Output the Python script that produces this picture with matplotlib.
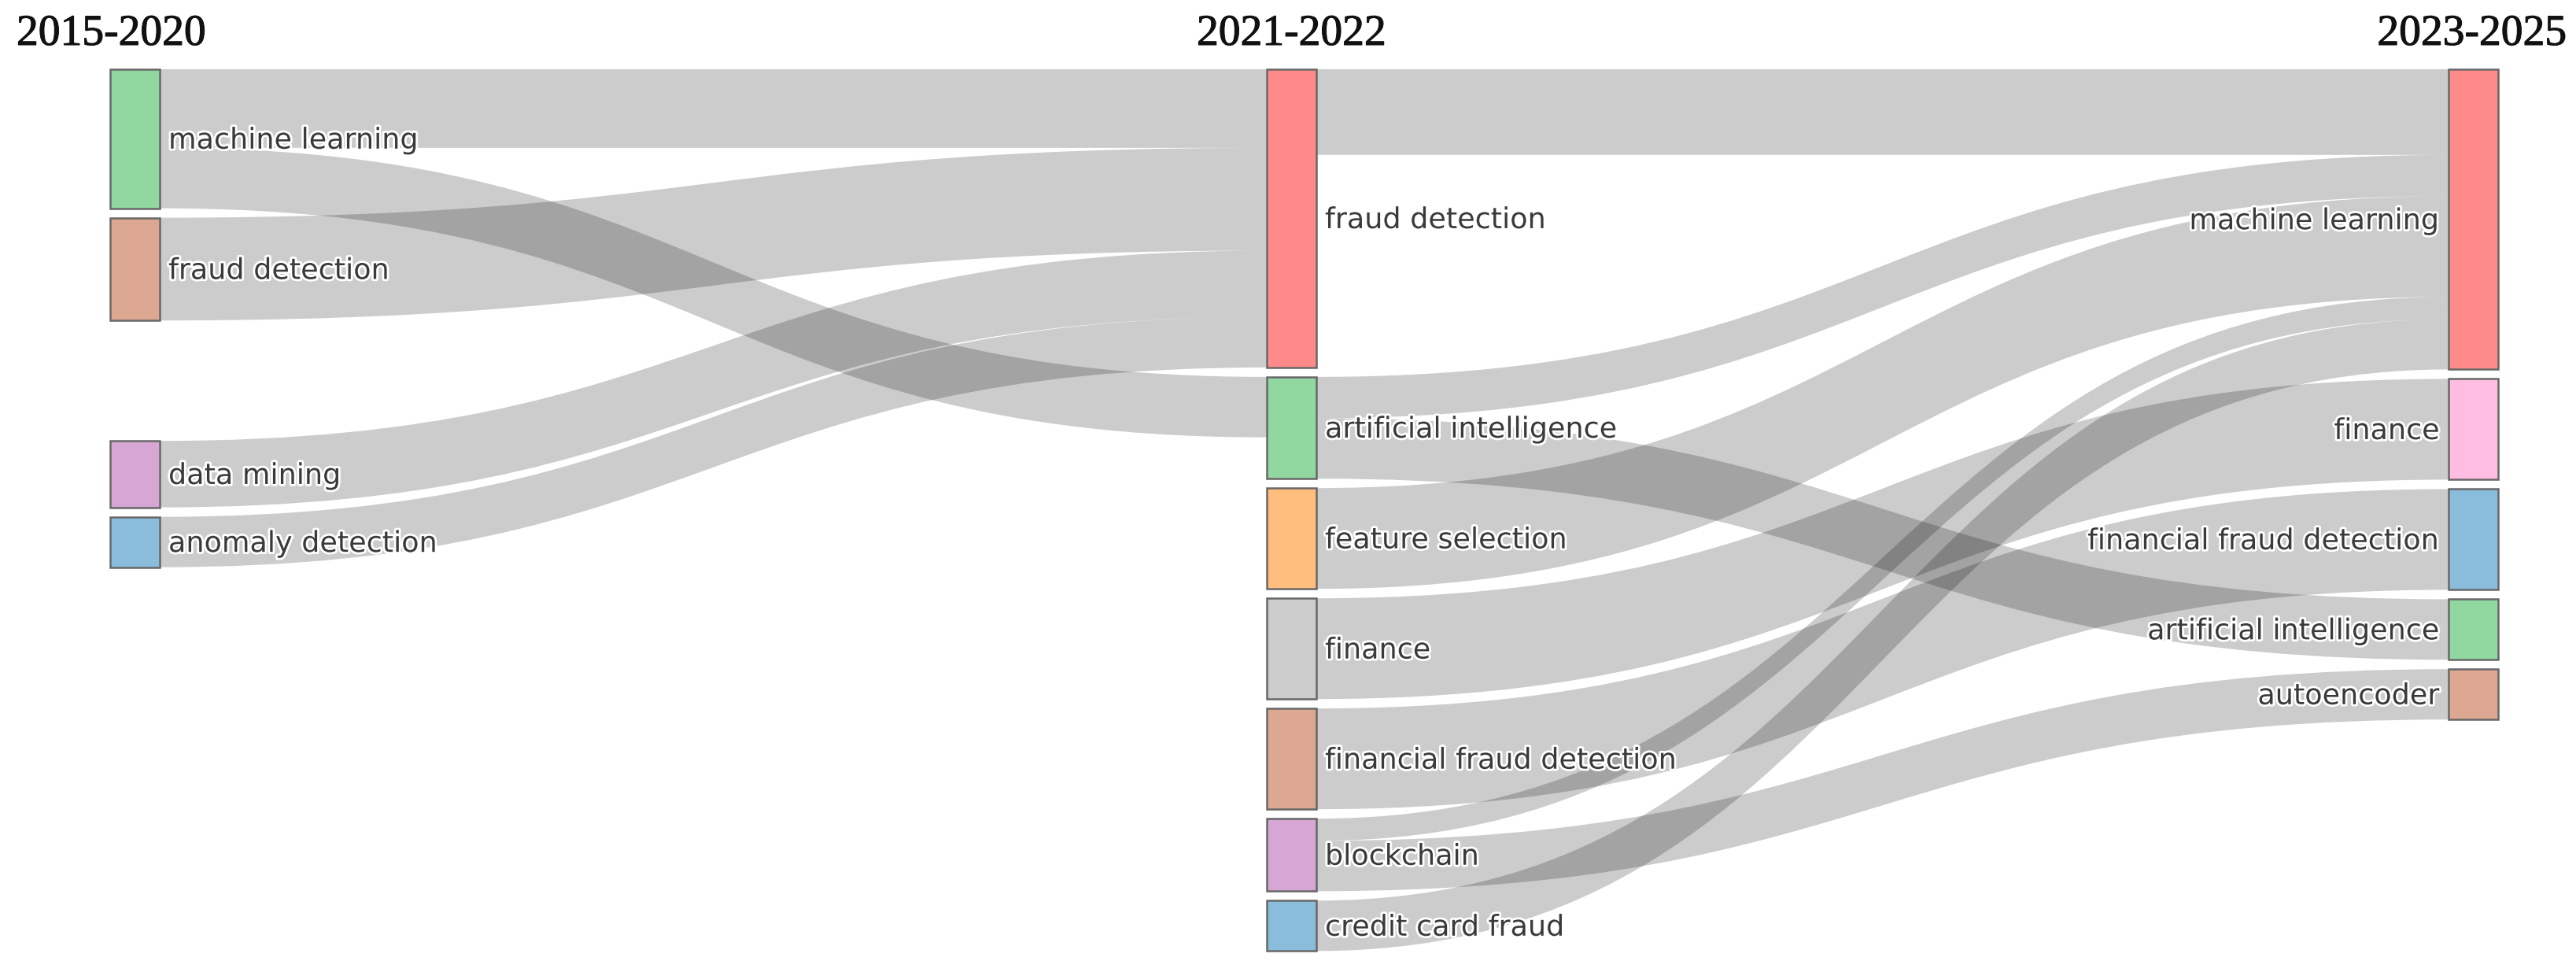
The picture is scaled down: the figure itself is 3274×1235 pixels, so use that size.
import matplotlib
matplotlib.use("Agg")
import matplotlib.pyplot as plt
from matplotlib.path import Path
from matplotlib.patches import PathPatch, Rectangle
import matplotlib.patheffects as pe

# ---------------- data ----------------
stage_titles = ["2015-2020", "2021-2022", "2023-2025"]

node_labels = [
    "machine learning", "fraud detection", "data mining", "anomaly detection",
    "fraud detection", "artificial intelligence", "feature selection", "finance",
    "financial fraud detection", "blockchain", "credit card fraud",
    "machine learning", "finance", "financial fraud detection",
    "artificial intelligence", "autoencoder",
]
node_stage = [0] * 4 + [1] * 7 + [2] * 5

link_source = [0, 0, 1, 2, 3, 4, 5, 5, 6, 7, 8, 9, 9, 10]
link_target = [4, 5, 4, 4, 4, 11, 11, 14, 11, 12, 13, 11, 15, 11]
link_value = [7.8, 6.0, 10.2, 6.6, 5.0, 8.5, 4.1, 6.0, 10.0, 10.0, 10.0, 2.2, 5.0, 5.0]

# ---------------- style / layout ----------------
node_colors = [
    "#91d7a0", "#dca891", "#d8a6d4", "#8abcdc",
    "#ff8a8a", "#91d7a0", "#ffbe7d", "#cccccc", "#dca891", "#d8a6d4", "#8abcdc",
    "#ff8a8a", "#ffbee1", "#8abcdc", "#91d7a0", "#dca891",
]
W, H = 3274, 1235
col_x = [140, 1610, 3112]
node_w = 63
top = 88
px_per_unit = 12.8
pad = 12
extra_gap = {2: 141}          # extra vertical space placed before a node
label_gap = 11
baseline_shift = 12.5
link_rgba = (0, 0, 0, 0.2)

n = len(node_labels)
in_sum = [0.0] * n
out_sum = [0.0] * n
for s, t, v in zip(link_source, link_target, link_value):
    out_sum[s] += v
    in_sum[t] += v
node_val = [max(a, b) for a, b in zip(in_sum, out_sum)]

node_y0 = [0.0] * n
node_h = [0.0] * n
for st in range(3):
    y = top
    for i in range(n):
        if node_stage[i] != st:
            continue
        y += extra_gap.get(i, 0)
        node_y0[i] = y
        node_h[i] = node_val[i] * px_per_unit
        y += node_h[i] + pad

def center(i):
    return node_y0[i] + node_h[i] / 2

fig = plt.figure(figsize=(W / 100, H / 100), dpi=100)
ax = fig.add_axes([0, 0, 1, 1])
ax.set_xlim(0, W)
ax.set_ylim(H, 0)
ax.axis("off")

# link offsets
idx = list(range(len(link_value)))
src_off = {}
tgt_off = {}
for i in range(n):
    outs = sorted([k for k in idx if link_source[k] == i], key=lambda k: center(link_target[k]))
    y = node_y0[i]
    for k in outs:
        src_off[k] = y
        y += link_value[k] * px_per_unit
    ins = sorted([k for k in idx if link_target[k] == i], key=lambda k: center(link_source[k]))
    y = node_y0[i]
    for k in ins:
        tgt_off[k] = y
        y += link_value[k] * px_per_unit

for k in idx:
    s, t = link_source[k], link_target[k]
    w = link_value[k] * px_per_unit
    xs = col_x[node_stage[s]] + node_w
    xt = col_x[node_stage[t]]
    xm = (xs + xt) / 2
    ys0, ys1 = src_off[k], src_off[k] + w
    yt0, yt1 = tgt_off[k], tgt_off[k] + w
    verts = [(xs, ys0), (xm, ys0), (xm, yt0), (xt, yt0),
             (xt, yt1), (xm, yt1), (xm, ys1), (xs, ys1), (xs, ys0)]
    codes = [Path.MOVETO, Path.CURVE4, Path.CURVE4, Path.CURVE4,
             Path.LINETO, Path.CURVE4, Path.CURVE4, Path.CURVE4, Path.CLOSEPOLY]
    ax.add_patch(PathPatch(Path(verts, codes), facecolor=link_rgba, edgecolor="none", lw=0))

halo = [pe.withStroke(linewidth=4, foreground="white")]
for i in range(n):
    st = node_stage[i]
    x = col_x[st]
    ax.add_patch(Rectangle((x, node_y0[i]), node_w, node_h[i], facecolor=node_colors[i],
                           edgecolor="#686868", lw=1.8, zorder=3))
    yb = center(i) + baseline_shift
    if st < 2:
        ax.text(x + node_w + label_gap, yb, node_labels[i], ha="left", va="baseline",
                fontsize=26.3, family="DejaVu Sans", color="#3a3a3a", path_effects=halo, zorder=4)
    else:
        ax.text(x - label_gap, yb, node_labels[i], ha="right", va="baseline",
                fontsize=26.3, family="DejaVu Sans", color="#3a3a3a", path_effects=halo, zorder=4)

title_halo = [pe.withStroke(linewidth=0.8, foreground="#111111")]
title_pos = [(21, "left"), (col_x[1] + node_w / 2, "center"), (3262, "right")]
for (tx, ha), ttl in zip(title_pos, stage_titles):
    ax.text(tx, 57, ttl, ha=ha, va="baseline", fontsize=40, family="Liberation Serif",
            color="#111111", path_effects=title_halo, zorder=5)

fig.savefig("out.png", dpi=100, facecolor="white")
